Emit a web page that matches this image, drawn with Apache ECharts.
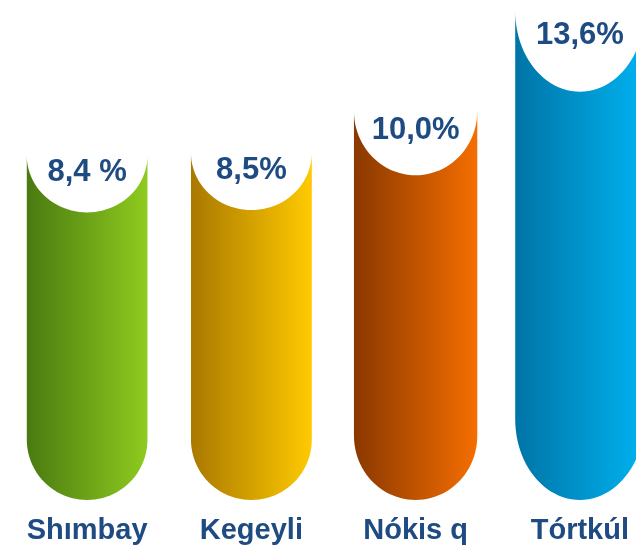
<!DOCTYPE html>
<html>
<head>
<meta charset="utf-8">
<script src="https://cdn.jsdelivr.net/npm/echarts@6/dist/echarts.min.js"></script>
<style>
html, body { margin: 0; padding: 0; background: #fff; }
#main { width: 636px; height: 547px; }
</style>
</head>
<body>
<div id="main"></div>
<script>
var categories = ["Shımbay", "Kegeyli", "Nókis q", "Tórtkúl"];
var values = [8.4, 8.5, 10.0, 13.6];
var valueLabels = ["8,4 %", "8,5%", "10,0%", "13,6%"];

// gradient colours, left -> right
var leftColors = ['#4a7a10', '#a97800', '#8a3800', '#0074a6'];
var rightColors = ['#8ecb1f', '#ffca00', '#f56e00', '#00b2f0'];
var textColor = '#1e4b82';
var axisMin = -4;

// bar with rounded bottom and a white half-ellipse cut into its top
function renderBar(params, api) {
    var i = params.dataIndex;
    var top = api.coord([api.value(0), api.value(1)]);
    var base = api.coord([api.value(0), axisMin]);
    var cx = top[0], yTop = top[1], yBot = base[1];
    var h = yBot - yTop;
    var hw = (100 + 0.06 * h) / 2;
    var ryTop = 0.165 * h;
    var ryBot = Math.max(hw, 0.165 * h);
    var n = 48, k, a;
    var pts = [[cx - hw, yTop]];
    for (k = 0; k <= n; k++) {
        a = Math.PI - Math.PI * k / n;
        pts.push([cx + hw * Math.cos(a), yBot - ryBot + ryBot * Math.sin(a)]);
    }
    for (k = 0; k <= n; k++) {
        a = Math.PI * k / n;
        pts.push([cx + hw * Math.cos(a), yTop + ryTop * Math.sin(a)]);
    }
    return {
        type: 'group',
        children: [{
            type: 'polygon',
            shape: { points: pts },
            style: {
                fill: new echarts.graphic.LinearGradient(0, 0, 1, 0, [
                    { offset: 0, color: leftColors[i] },
                    { offset: 1, color: rightColors[i] }
                ])
            }
        }, {
            type: 'text',
            style: {
                text: valueLabels[i],
                x: cx,
                y: yTop + ryTop * 0.3,
                align: 'center',
                verticalAlign: 'middle',
                textAlign: 'center',
                textVerticalAlign: 'middle',
                fill: textColor,
                font: 'bold 31px "Liberation Sans", Arial, sans-serif'
            }
        }]
    };
}

var myChart = echarts.init(document.getElementById('main'));
var option = {
    backgroundColor: '#ffffff',
    animation: false,
    grid: { left: 5, right: -26, top: 0, bottom: 47, outerBoundsMode: 'none', containLabel: false },
    xAxis: {
        type: 'category',
        data: categories,
        axisLine: { show: false },
        axisTick: { show: false },
        axisLabel: {
            margin: 16,
            color: textColor,
            fontSize: 29,
            fontWeight: 'bold',
            fontFamily: '"Liberation Sans", Arial, sans-serif'
        }
    },
    yAxis: {
        type: 'value',
        min: axisMin,
        max: 14,
        show: false,
        splitLine: { show: false }
    },
    series: [{
        type: 'custom',
        renderItem: renderBar,
        encode: { x: 0, y: 1 },
        data: values.map(function (v, i) { return [i, v]; })
    }]
};
myChart.setOption(option);
</script>
</body>
</html>
